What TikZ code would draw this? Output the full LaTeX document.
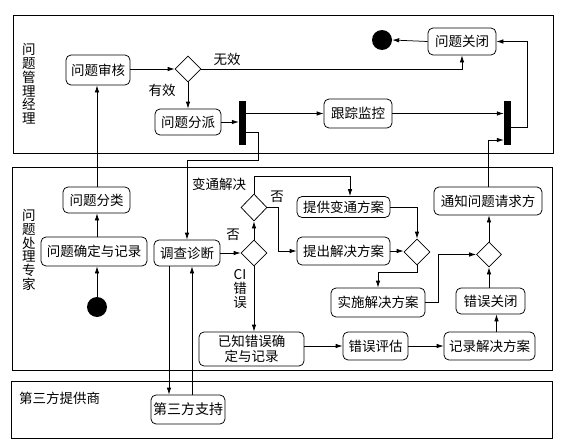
\documentclass[tikz,border=0pt]{standalone}
\usepackage{fontspec}
\setmainfont{Noto Sans CJK SC}
\usetikzlibrary{arrows.meta,shapes.geometric}
\begin{document}
\begin{tikzpicture}[x=1pt,y=-1pt,
  font=\fontsize{13.5}{15}\selectfont,
  box/.style={draw,rounded corners=5pt,line width=0.75pt,inner sep=1pt,align=center},
  dia/.style={draw,diamond,line width=0.75pt,minimum width=26pt,minimum height=26pt,inner sep=0pt},
  bar/.style={fill=black,inner sep=0pt,minimum width=7pt,minimum height=44pt},
  dot/.style={circle,fill=black,inner sep=0pt,minimum size=20pt},
  lane/.style={draw,line width=0.85pt},
  arr/.style={-{Latex[length=7pt,width=4.5pt]},line width=0.75pt},
  lbl/.style={inner sep=0pt},
  vlbl/.style={inner sep=0pt,align=center,font=\fontsize{13.5}{13.8}\selectfont}
]
\useasboundingbox (0,0) rectangle (571,447);
% lanes
\draw[lane] (13,15) rectangle (553,153);
\draw[lane] (12,167) rectangle (552,370);
\draw[lane] (11,381) rectangle (552,438);
\node[vlbl] (lab1) at (29,84) {问\\题\\管\\理\\经\\理};
\node[vlbl] (lab2) at (29,250) {问\\题\\处\\理\\专\\家};
\node[lbl,anchor=west] (lab3) at (19,398) {第三方提供商};

% lane 1 nodes
\node[box,minimum width=64pt,minimum height=30pt] (review) at (98,70) {问题审核};
\node[dia] (d1) at (188,69) {};
\node[box,minimum width=66pt,minimum height=26pt] (assign) at (188,122) {问题分派};
\node[bar] (bar1) at (242.5,123) {};
\node[box,minimum width=68pt,minimum height=29pt] (trk) at (358,113.5) {跟踪监控};
\node[bar] (bar2) at (507.5,123) {};
\node[box,minimum width=68pt,minimum height=27pt] (close) at (462,41.5) {问题关闭};
\node[dot] (end) at (382,40) {};

% lane 2 nodes
\node[box,minimum width=67pt,minimum height=26pt] (classify) at (96.5,200) {问题分类};
\node[box,minimum width=106pt,minimum height=29pt] (confirm) at (94,251.5) {问题确定与记录};
\node[dot] (start) at (97,307) {};
\node[box,minimum width=66pt,minimum height=26pt] (diag) at (187,253) {调查诊断};
\node[dia] (dlow) at (254,253) {};
\node[dia,minimum height=27pt] (dup) at (254,207.5) {};
\node[box,minimum width=93pt,minimum height=21pt] (provide) at (343.5,207) {提供变通方案};
\node[box,minimum width=93pt,minimum height=28pt] (propose) at (343.5,251) {提出解决方案};
\node[dia] (d3) at (417,252) {};
\node[box,minimum width=94pt,minimum height=29pt] (implement) at (378,302.5) {实施解决方案};
\node[dia,minimum width=25pt,minimum height=25pt] (d4) at (489,254.5) {};
\node[box,minimum width=108pt,minimum height=28pt] (notify) at (488,201) {通知问题请求方};
\node[box,minimum width=69pt,minimum height=26pt] (errclose) at (490.5,301) {错误关闭};
\node[box,minimum width=91pt,minimum height=28pt] (record) at (489.5,346) {记录解决方案};
\node[box,minimum width=65pt,minimum height=28pt] (eval) at (375.5,346) {错误评估};
\node[box,minimum width=105pt,minimum height=34pt,font=\fontsize{13.5}{14.5}\selectfont] (known) at (251.5,349) {已知错误确\\定与记录};

% lane 3 nodes
\node[box,minimum width=74pt,minimum height=29pt,font=\fontsize{14}{15}\selectfont] (third) at (188,409.5) {第三方支持};

% labels
\node[lbl] (t1) at (227,59) {无效};
\node[lbl] (t2) at (162,90) {有效};
\node[lbl] (t3) at (219,184) {变通解决};
\node[lbl] (t4) at (233,235) {否};
\node[lbl] (t5) at (277,197) {否};
\node[vlbl,font=\fontsize{13.5}{14}\selectfont] (t6) at (240,289) {CI\\错\\误};

% coordinates
\coordinate (c1) at (258,132);
\coordinate (c2) at (258,160);
\coordinate (c3) at (527,127);
\coordinate (c4) at (350,176);

% lane 1 connectors
\draw[arr] (review.east |- d1.west) -- (d1.west);
\draw[arr] (d1.south) -- (d1.south |- assign.north);
\draw[arr] (d1.east) -| (close.south);
\draw[arr] (assign.east) -- (assign.east -| bar1.west);
\draw[arr] (bar1.east |- trk.west) -- (trk.west);
\draw[arr] (trk.east) -- (trk.east -| bar2.west);
\draw[arr] (bar2.east |- c3) -- (c3) |- (close.east);
\draw[arr] (close.west) -- (end.east);
\draw[arr] (bar1.east |- c1) -- (c1) -- (c2) -| (diag.north);
\draw[arr] (notify.north) |- (bar2.west |- 0,140);

% lane 2 connectors
\draw[arr] (start.north) -- (start.north |- confirm.south);
\draw[arr] (start.north |- confirm.north) -- (start.north |- classify.south);
\draw[arr] (start.north |- classify.north) -- (start.north |- review.south);
\draw[arr] (diag.east) -- (diag.east -| dlow.west);
\draw[arr] (dlow.north) -- (dup.south);
\draw[arr] (dup.north) |- (c4) -- (c4 |- provide.north);
\draw[arr] (dup.east) -- ++(11,0) |- (propose.west);
\draw[arr] (dlow.south) -- (dlow.south |- known.north);
\draw[arr] (provide.east) -| (d3.north);
\draw[arr] (propose.east) -- (propose.east -| d3.west);
\draw[arr] (d3.south) -- ++(0,7) -| (implement.north);
\draw[arr] (implement.east) -- ++(13,0) |- (d4.west);
\draw[arr] (known.east |- eval.west) -- (eval.west);
\draw[arr] (eval.east) -- (record.west);
\draw[arr] ([xshift=7pt]record.north) -- ([xshift=7pt]record.north |- errclose.south);
\draw[arr] (d4.south |- errclose.north) -- (d4.south);
\draw[arr] (d4.north) -- (d4.north |- notify.south);

% lane 3 connectors
\draw[arr] ([xshift=-18pt]diag.south) -- ([xshift=-18pt]diag.south |- third.north);
\draw[arr] ([xshift=4pt]third.north) -- ([xshift=4pt]third.north |- diag.south);
\end{tikzpicture}
\end{document}
